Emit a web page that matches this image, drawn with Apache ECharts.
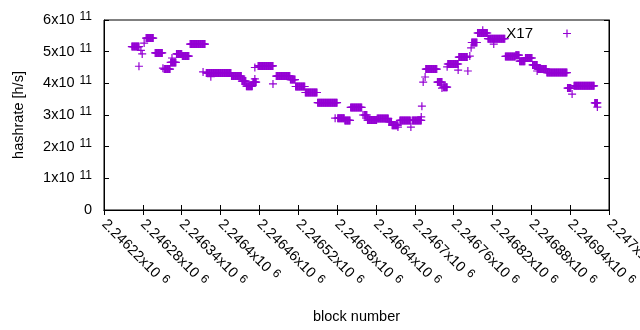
<!DOCTYPE html>
<html>
<head>
<meta charset="utf-8">
<script src="https://cdn.jsdelivr.net/npm/echarts@6/dist/echarts.min.js"></script>
<style>
  html, body { margin: 0; padding: 0; background: #fff; }
  #main { width: 640px; height: 330px; }
</style>
</head>
<body>
<div id="main"></div>
<script>
// runs of consecutive blocks sharing the same hashrate (first block, last block, h/s)
var runStart = [2246263, 2246285, 2246299, 2246313, 2246323, 2246332, 2246341, 2246353, 2246378, 2246417,
  2246433, 2246440, 2246450, 2246458, 2246486, 2246508, 2246516, 2246531, 2246550, 2246581,
  2246592, 2246601, 2246622, 2246627, 2246642, 2246660, 2246665, 2246677, 2246696, 2246717,
  2246735, 2246744, 2246751, 2246768, 2246788, 2246797, 2246813, 2246840, 2246856, 2246862,
  2246871, 2246882, 2246890, 2246904, 2246936, 2246946, 2246978];
var runEnd = [2246274, 2246296, 2246310, 2246322, 2246331, 2246340, 2246351, 2246376, 2246416, 2246432,
  2246439, 2246449, 2246455, 2246481, 2246507, 2246515, 2246530, 2246549, 2246580, 2246591,
  2246600, 2246618, 2246626, 2246641, 2246659, 2246664, 2246674, 2246693, 2246710, 2246734,
  2246742, 2246750, 2246767, 2246781, 2246796, 2246812, 2246839, 2246855, 2246861, 2246870,
  2246881, 2246889, 2246903, 2246935, 2246941, 2246977, 2246982];
var runRate = [5.16e11, 5.43e11, 4.96e11, 4.45e11, 4.66e11, 4.93e11, 4.86e11, 5.24e11, 4.33e11, 4.23e11,
  4.07e11, 3.91e11, 4.04e11, 4.55e11, 4.23e11, 4.12e11, 3.90e11, 3.71e11, 3.39e11, 2.90e11,
  2.83e11, 3.24e11, 3.00e11, 2.84e11, 2.89e11, 2.79e11, 2.68e11, 2.83e11, 2.83e11, 4.45e11,
  4.04e11, 3.88e11, 4.61e11, 4.83e11, 5.29e11, 5.59e11, 5.41e11, 4.85e11, 4.89e11, 4.70e11,
  4.80e11, 4.58e11, 4.45e11, 4.34e11, 3.85e11, 3.92e11, 3.38e11];

// single outlying blocks
var pointBlock = [2246274, 2246277, 2246279, 2246282, 2246311, 2246325, 2246373, 2246385, 2246453, 2246453,
  2246481, 2246577, 2246620, 2246674, 2246694, 2246710, 2246711, 2246713, 2246716, 2246742,
  2246750, 2246767, 2246782, 2246785, 2246787, 2246805, 2246822, 2246889, 2246943, 2246982];
var pointRate = [4.54e11, 5.04e11, 4.93e11, 5.27e11, 4.48e11, 4.80e11, 4.36e11, 4.21e11, 4.50e11, 4.14e11,
  3.98e11, 2.90e11, 3.00e11, 2.62e11, 2.62e11, 2.94e11, 3.28e11, 4.04e11, 4.20e11, 3.85e11,
  4.52e11, 4.42e11, 4.39e11, 4.86e11, 5.12e11, 5.68e11, 5.24e11, 4.39e11, 3.66e11, 3.25e11];

var data = [];
for (var i = 0; i < runStart.length; i++) {
  for (var b = runStart[i]; b <= runEnd[i]; b++) data.push([b, runRate[i]]);
}
for (var j = 0; j < pointBlock.length; j++) data.push([pointBlock[j], pointRate[j]]);

var plus = 'path://M0,3.4H8V4.6H0Z M3.4,0H4.6V8H3.4Z';
var font = 'Liberation Sans';
var rich = {
  b: { fontSize: 14.5, fontFamily: font, color: '#000' },
  s: { fontSize: 12, fontFamily: font, color: '#000', padding: [0, 0, 6, 5] }
};

function yLabel(v) {
  if (v === 0) return '{b|0}';
  return '{b|' + Math.round(v / 1e11) + 'x10}{s|11}';
}
function xLabel(v) {
  return '{b|' + parseFloat((v / 1e6).toFixed(6)) + 'x10}{s|6}';
}

var myChart = echarts.init(document.getElementById('main'));
myChart.setOption({
  animation: false,
  backgroundColor: '#fff',
  grid: {
    left: 104, right: 31, top: 20, bottom: 120, show: true, borderColor: '#000', borderWidth: 1,
    containLabel: false, outerBoundsMode: 'none'
  },
  legend: {
    data: ['X17'], right: 64, top: 21, align: 'right',
    itemWidth: 58, itemHeight: 8,
    textStyle: { fontSize: 15, fontFamily: font, color: '#000' }
  },
  xAxis: [{
    type: 'value', min: 2246220, max: 2247000, interval: 60,
    name: 'block number', nameLocation: 'middle', nameGap: 99,
    nameTextStyle: { fontSize: 14.5, fontFamily: font, color: '#000' },
    axisLine: { lineStyle: { color: '#000' } },
    axisTick: { inside: true, length: 5, lineStyle: { color: '#000' } },
    splitLine: { show: false },
    axisLabel: { rotate: -45, margin: 12, formatter: xLabel, rich: rich, showMinLabel: true, showMaxLabel: true, hideOverlap: false }
  }, {
    type: 'value', min: 2246220, max: 2247000, interval: 60, position: 'top',
    axisLine: { lineStyle: { color: '#000' } },
    axisTick: { inside: true, length: 5, lineStyle: { color: '#000' } },
    axisLabel: { show: false }, splitLine: { show: false }
  }],
  yAxis: [{
    type: 'value', min: 0, max: 6e11, interval: 1e11,
    name: 'hashrate [h/s]', nameLocation: 'middle', nameGap: 78,
    nameTextStyle: { fontSize: 14.5, fontFamily: font, color: '#000' },
    axisLine: { show: true, lineStyle: { color: '#000' } },
    axisTick: { show: true, inside: true, length: 5, lineStyle: { color: '#000' } },
    splitLine: { show: false },
    axisLabel: { margin: 12, formatter: yLabel, rich: rich }
  }, {
    type: 'value', min: 0, max: 6e11, interval: 1e11, position: 'right',
    axisLine: { show: true, lineStyle: { color: '#000' } },
    axisTick: { show: true, inside: true, length: 5, lineStyle: { color: '#000' } },
    axisLabel: { show: false }, splitLine: { show: false }
  }],
  series: [{
    name: 'X17', type: 'scatter', data: data,
    symbol: plus, symbolSize: 8,
    itemStyle: { color: '#9400d3', opacity: 1 },
    emphasis: { disabled: true }
  }]
});
</script>
</body>
</html>
